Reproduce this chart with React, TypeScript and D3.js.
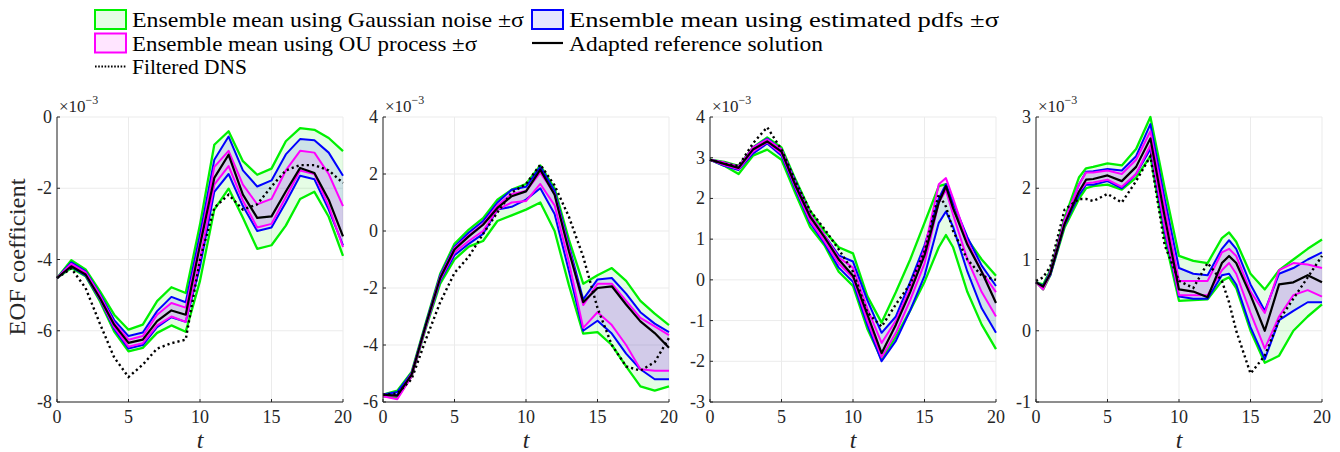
import React from "react";
import * as d3 from "d3";

// ---------- data (values ×1e-3) ----------
const T1 = [0, 1, 2, 3, 4, 5, 6, 7, 8, 9, 10, 11, 12, 13, 14, 15, 16, 17, 18, 19, 20];
const P1_gaussU = [-4.52, -4.02, -4.28, -4.89, -5.55, -5.97, -5.83, -5.17, -4.78, -4.94, -3.02, -0.78, -0.4, -1.24, -1.62, -1.45, -0.68, -0.31, -0.36, -0.59, -0.96];
const P1_gaussL = [-4.52, -4.24, -4.47, -5.17, -6.02, -6.58, -6.48, -6.06, -5.85, -6.03, -4.6, -2.6, -2.01, -2.83, -3.7, -3.6, -3.05, -2.3, -2.1, -2.8, -3.9];
const P1_pdfU = [-4.52, -4.08, -4.33, -4.97, -5.7, -6.15, -6.05, -5.45, -5.05, -5.2, -3.3, -1.2, -0.55, -1.5, -1.95, -1.78, -1.05, -0.62, -0.65, -1.0, -1.65];
const P1_pdfL = [-4.52, -4.2, -4.45, -5.12, -5.95, -6.5, -6.4, -5.9, -5.62, -5.75, -4.2, -2.1, -1.6, -2.5, -3.2, -3.1, -2.4, -1.65, -1.75, -2.6, -3.6];
const P1_ouU = [-4.52, -4.12, -4.36, -5.0, -5.78, -6.25, -6.15, -5.55, -5.22, -5.35, -3.5, -1.4, -0.95, -1.9, -2.45, -2.3, -1.5, -0.95, -1.0, -1.6, -2.5];
const P1_ouL = [-4.52, -4.18, -4.42, -5.1, -5.9, -6.45, -6.35, -5.85, -5.6, -5.75, -4.0, -1.9, -1.38, -2.35, -3.1, -3.0, -2.25, -1.5, -1.6, -2.5, -3.65];
const P1_ref = [-4.52, -4.19, -4.42, -5.08, -5.83, -6.34, -6.25, -5.73, -5.43, -5.55, -3.6, -1.71, -1.06, -2.18, -2.83, -2.79, -2.09, -1.43, -1.57, -2.32, -3.35];
const P1_dns = [-4.52, -4.25, -4.8, -5.8, -6.75, -7.3, -6.95, -6.5, -6.35, -6.25, -4.0, -2.55, -2.18, -2.6, -2.45, -1.95, -1.5, -1.35, -1.35, -1.5, -1.85];

const T2 = [0, 1, 2, 3, 4, 5, 6, 7, 8, 9, 10, 11, 12, 13, 14, 15, 16, 17, 18, 19, 20];
const P2_gaussU = [-5.74, -5.6, -4.95, -3.2, -1.5, -0.45, 0.05, 0.45, 1.1, 1.45, 1.65, 2.3, 1.5, -0.3, -1.85, -1.55, -1.3, -1.75, -2.45, -2.9, -3.3];
const P2_gaussL = [-5.8, -5.85, -5.1, -3.4, -1.85, -1.0, -0.55, -0.35, 0.35, 0.55, 0.75, 1.0, 0.0, -1.9, -3.6, -3.55, -4.0, -4.75, -5.45, -5.6, -5.45];
const P2_pdfU = [-5.74, -5.65, -4.98, -3.25, -1.55, -0.55, -0.05, 0.35, 1.0, 1.45, 1.55, 2.25, 1.4, -0.5, -2.4, -1.7, -1.65, -2.2, -2.85, -3.25, -3.55];
const P2_pdfL = [-5.74, -5.75, -5.05, -3.35, -1.75, -0.85, -0.45, -0.1, 0.75, 0.85, 1.1, 1.5, 0.6, -1.4, -3.5, -3.15, -3.6, -4.3, -4.85, -5.2, -5.2];
const P2_ouU = [-5.74, -5.8, -5.0, -3.3, -1.6, -0.6, -0.15, 0.25, 0.9, 1.3, 1.4, 2.05, 1.3, -0.6, -2.6, -1.85, -1.85, -2.45, -3.05, -3.35, -3.65];
const P2_ouL = [-5.8, -5.9, -5.1, -3.35, -1.7, -0.75, -0.35, 0.0, 0.75, 1.0, 1.05, 1.65, 0.9, -1.1, -3.4, -2.85, -3.3, -4.0, -4.85, -4.9, -4.9];
const P2_ref = [-5.74, -5.78, -5.04, -3.29, -1.65, -0.65, -0.19, 0.22, 0.81, 1.22, 1.39, 2.15, 1.27, -0.71, -2.5, -2.0, -1.94, -2.58, -3.17, -3.58, -4.1];
const P2_dns = [-5.75, -5.7, -5.2, -3.8, -2.5, -1.47, -0.9, -0.1, 0.65, 1.35, 1.65, 2.33, 1.6, 0.5, -0.9, -2.7, -4.0, -4.75, -4.9, -4.6, -3.75];

const T3 = [0, 1, 2, 3, 4, 5, 6, 7, 8, 9, 10, 11, 12, 13, 14, 15, 16, 16.5, 17, 18, 19, 20];
const P3_gaussU = [2.95, 2.9, 2.8, 3.25, 3.5, 3.25, 2.45, 1.7, 1.2, 0.8, 0.65, -0.4, -1.05, -0.3, 0.5, 1.4, 2.3, 2.35, 1.75, 1.0, 0.5, 0.1];
const P3_gaussL = [2.95, 2.8, 2.6, 3.05, 3.2, 2.95, 2.1, 1.3, 0.85, 0.2, -0.15, -1.2, -1.95, -1.4, -0.75, -0.05, 0.8, 1.1, 0.8, -0.3, -1.1, -1.7];
const P3_pdfU = [2.95, 2.88, 2.78, 3.25, 3.47, 3.2, 2.4, 1.6, 1.1, 0.6, 0.45, -0.5, -1.3, -0.9, -0.05, 0.85, 2.0, 2.35, 1.9, 1.05, 0.35, -0.15];
const P3_pdfL = [2.95, 2.8, 2.7, 3.1, 3.35, 3.05, 2.2, 1.4, 0.9, 0.3, -0.05, -1.1, -2.0, -1.5, -0.75, 0.1, 1.4, 1.68, 1.3, 0.2, -0.7, -1.3];
const P3_ouU = [2.95, 2.88, 2.78, 3.25, 3.45, 3.2, 2.35, 1.6, 1.1, 0.55, 0.3, -0.7, -1.55, -1.0, -0.2, 0.75, 2.35, 2.5, 2.0, 0.95, 0.2, -0.3];
const P3_ouL = [2.95, 2.82, 2.72, 3.15, 3.38, 3.1, 2.25, 1.45, 0.95, 0.4, 0.05, -1.0, -1.9, -1.3, -0.5, 0.4, 1.9, 2.2, 1.6, 0.5, -0.3, -0.9];
const P3_ref = [2.95, 2.85, 2.75, 3.2, 3.4, 3.15, 2.3, 1.55, 1.05, 0.5, 0.1, -0.85, -1.8, -1.1, -0.3, 0.6, 1.9, 2.3, 1.76, 0.86, 0.2, -0.57];
const P3_dns = [2.95, 2.85, 2.8, 3.35, 3.75, 3.2, 2.4, 1.7, 1.25, 0.75, 0.2, -0.8, -1.15, -0.6, -0.1, 0.7, 2.1, 1.8, 1.2, 0.5, 0.1, 0.0];

const T4 = [0, 0.5, 1, 2, 3, 3.5, 4, 5, 6, 7, 8, 9, 10, 11, 12, 13, 13.5, 14, 15, 16, 17, 18, 19, 20];
const P4_gaussU = [0.68, 0.65, 0.85, 1.58, 2.15, 2.28, 2.3, 2.35, 2.32, 2.55, 3.0, 2.0, 1.05, 0.98, 0.95, 1.3, 1.38, 1.25, 0.8, 0.58, 0.85, 1.0, 1.15, 1.28];
const P4_gaussL = [0.68, 0.58, 0.78, 1.45, 1.85, 2.0, 2.03, 2.05, 1.98, 2.15, 2.45, 1.3, 0.42, 0.43, 0.44, 0.7, 0.75, 0.6, 0.0, -0.45, -0.35, 0.0, 0.2, 0.37];
const P4_pdfU = [0.68, 0.63, 0.83, 1.55, 2.05, 2.23, 2.24, 2.27, 2.25, 2.45, 2.9, 1.85, 0.88, 0.8, 0.78, 1.15, 1.27, 1.15, 0.65, 0.28, 0.8, 0.88, 1.0, 1.1];
const P4_pdfL = [0.68, 0.62, 0.78, 1.48, 1.9, 2.05, 2.05, 2.1, 2.0, 2.2, 2.55, 1.4, 0.48, 0.45, 0.45, 0.78, 0.8, 0.65, 0.05, -0.4, 0.15, 0.28, 0.4, 0.4];
const P4_ouU = [0.68, 0.6, 0.82, 1.55, 2.05, 2.22, 2.22, 2.25, 2.2, 2.4, 2.8, 1.75, 0.7, 0.7, 0.7, 1.1, 1.15, 1.05, 0.55, 0.25, 0.85, 0.95, 0.93, 0.88];
const P4_ouL = [0.68, 0.58, 0.8, 1.5, 1.95, 2.07, 2.08, 2.12, 2.02, 2.2, 2.6, 1.45, 0.5, 0.5, 0.5, 0.85, 0.95, 0.8, 0.25, -0.25, 0.2, 0.5, 0.57, 0.48];
const P4_ref = [0.68, 0.62, 0.8, 1.5, 1.95, 2.12, 2.13, 2.18, 2.1, 2.3, 2.7, 1.6, 0.58, 0.55, 0.47, 0.95, 1.05, 0.95, 0.5, 0.0, 0.65, 0.68, 0.78, 0.68];
const P4_dns = [0.7, 0.75, 0.9, 1.7, 1.85, 1.85, 1.82, 1.92, 1.8, 2.1, 2.45, 1.2, 0.7, 0.6, 0.95, 0.7, 0.4, 0.0, -0.6, -0.35, 0.15, 0.45, 0.75, 1.05];

const X_TICKS = [0, 5, 10, 15, 20];
const P1_YTICKS = [-8, -6, -4, -2, 0];
const P2_YTICKS = [-6, -4, -2, 0, 2, 4];
const P3_YTICKS = [-3, -2, -1, 0, 1, 2, 3, 4];
const P4_YTICKS = [-1, 0, 1, 2, 3];

const LEGEND_LABELS = [
  "Ensemble mean using Gaussian noise ±σ",
  "Ensemble mean using estimated pdfs ±σ",
  "Ensemble mean using OU process ±σ",
  "Adapted reference solution",
  "Filtered DNS",
];

const panels = [
  { t: T1, gU: P1_gaussU, gL: P1_gaussL, bU: P1_pdfU, bL: P1_pdfL, mU: P1_ouU, mL: P1_ouL, ref: P1_ref, dns: P1_dns, ticks: P1_YTICKS },
  { t: T2, gU: P2_gaussU, gL: P2_gaussL, bU: P2_pdfU, bL: P2_pdfL, mU: P2_ouU, mL: P2_ouL, ref: P2_ref, dns: P2_dns, ticks: P2_YTICKS },
  { t: T3, gU: P3_gaussU, gL: P3_gaussL, bU: P3_pdfU, bL: P3_pdfL, mU: P3_ouU, mL: P3_ouL, ref: P3_ref, dns: P3_dns, ticks: P3_YTICKS },
  { t: T4, gU: P4_gaussU, gL: P4_gaussL, bU: P4_pdfU, bL: P4_pdfL, mU: P4_ouU, mL: P4_ouL, ref: P4_ref, dns: P4_dns, ticks: P4_YTICKS },
];

// ---------- layout ----------
const W = 1340;
const H = 452;
const PANEL_LEFT = [57, 383, 710, 1036];
const PW = 286;
const TOP = 117;
const BOTTOM = 402;
const FONT = "'Liberation Serif', 'DejaVu Serif', serif";
const GREEN = "#00f000";
const BLUE = "#0000ff";
const MAGENTA = "#ff00ff";

function Panel({ p, left }: { p: (typeof panels)[number]; left: number }) {
  const x = d3.scaleLinear().domain([0, 20]).range([left, left + PW]);
  const y = d3
    .scaleLinear()
    .domain([p.ticks[0], p.ticks[p.ticks.length - 1]])
    .range([BOTTOM, TOP]);
  const band = (U: number[], L: number[]) =>
    d3
      .area<number>()
      .x((_, i) => x(p.t[i]))
      .y0((_, i) => y(L[i]))
      .y1((d) => y(d))(U) || "";
  const line = (V: number[]) =>
    d3
      .line<number>()
      .x((_, i) => x(p.t[i]))
      .y((d) => y(d))(V) || "";
  return (
    <g>
      {/* grid */}
      {X_TICKS.map((v) => (
        <line key={"gx" + v} x1={x(v)} x2={x(v)} y1={TOP} y2={BOTTOM} stroke="#ebebeb" strokeWidth={1} />
      ))}
      {p.ticks.map((v) => (
        <line key={"gy" + v} x1={left} x2={left + PW} y1={y(v)} y2={y(v)} stroke="#ebebeb" strokeWidth={1} />
      ))}
      {/* bands */}
      <path d={band(p.gU, p.gL)} fill={GREEN} fillOpacity={0.1} stroke="none" />
      <path d={band(p.bU, p.bL)} fill={BLUE} fillOpacity={0.1} stroke="none" />
      <path d={band(p.mU, p.mL)} fill={MAGENTA} fillOpacity={0.1} stroke="none" />
      {/* lines */}
      {[p.gU, p.gL].map((s, i) => (
        <path key={"g" + i} d={line(s)} fill="none" stroke={GREEN} strokeWidth={2.3} strokeLinejoin="round" />
      ))}
      {[p.bU, p.bL].map((s, i) => (
        <path key={"b" + i} d={line(s)} fill="none" stroke={BLUE} strokeWidth={2} strokeLinejoin="round" />
      ))}
      {[p.mU, p.mL].map((s, i) => (
        <path key={"m" + i} d={line(s)} fill="none" stroke={MAGENTA} strokeWidth={2} strokeLinejoin="round" />
      ))}
      <path d={line(p.ref)} fill="none" stroke="#000" strokeWidth={2.2} strokeLinejoin="round" />
      <path d={line(p.dns)} fill="none" stroke="#000" strokeWidth={2.4} strokeDasharray="2.2,3" />
      {/* axes */}
      <line x1={left} x2={left} y1={TOP} y2={BOTTOM} stroke="#262626" strokeWidth={1} />
      <line x1={left} x2={left + PW} y1={BOTTOM} y2={BOTTOM} stroke="#262626" strokeWidth={1} />
      {X_TICKS.map((v) => (
        <g key={"tx" + v}>
          <line x1={x(v)} x2={x(v)} y1={BOTTOM} y2={BOTTOM - 3} stroke="#262626" />
          <text x={x(v)} y={BOTTOM + 21} textAnchor="middle" fontSize={18} fill="#262626" fontFamily={FONT}>
            {v}
          </text>
        </g>
      ))}
      {p.ticks.map((v) => (
        <g key={"ty" + v}>
          <line x1={left} x2={left + 3} y1={y(v)} y2={y(v)} stroke="#262626" />
          <text x={left - 5} y={y(v) + 6} textAnchor="end" fontSize={18} fill="#262626" fontFamily={FONT}>
            {v}
          </text>
        </g>
      ))}
      <text x={left + 2} y={TOP - 5} fontSize={17} fill="#262626" fontFamily={FONT}>
        ×10
        <tspan dy={-8} fontSize={12}>
          −3
        </tspan>
      </text>
      <text x={left + PW / 2} y={BOTTOM + 46} textAnchor="middle" fontSize={24} fontStyle="italic" fill="#262626" fontFamily={FONT}>
        t
      </text>
    </g>
  );
}

function Legend() {
  const rows = [
    { kind: "box", color: GREEN, x: 95, y: 19.5, len: 392, label: LEGEND_LABELS[0] },
    { kind: "box", color: BLUE, x: 532, y: 19.5, len: 430, label: LEGEND_LABELS[1] },
    { kind: "box", color: MAGENTA, x: 95, y: 43, len: 345, label: LEGEND_LABELS[2] },
    { kind: "line", color: "#000", x: 532, y: 43, len: 254, label: LEGEND_LABELS[3] },
    { kind: "dot", color: "#000", x: 95, y: 66.5, len: 115, label: LEGEND_LABELS[4] },
  ];
  return (
    <g>
      {rows.map((r, i) => (
        <g key={i}>
          {r.kind === "box" && (
            <>
              <rect x={r.x} y={r.y - 9.5} width={31} height={19} fill="#fff" />
              <rect x={r.x} y={r.y - 9.5} width={31} height={19} fill={r.color} fillOpacity={0.1} stroke={r.color} strokeWidth={2} />
            </>
          )}
          {r.kind === "line" && <line x1={r.x} x2={r.x + 31} y1={r.y} y2={r.y} stroke="#000" strokeWidth={2.2} />}
          {r.kind === "dot" && (
            <line x1={r.x} x2={r.x + 31} y1={r.y} y2={r.y} stroke="#000" strokeWidth={2} strokeDasharray="1.6,1.6" />
          )}
          <text
            x={r.x + 37}
            y={r.y + 7.5}
            fontSize={22}
            fill="#000"
            fontFamily={FONT}
            textLength={r.len}
            lengthAdjust="spacingAndGlyphs"
          >
            {r.label}
          </text>
        </g>
      ))}
    </g>
  );
}

export default function App() {
  return (
    <svg width={W} height={H} style={{ position: "absolute", left: 0, top: 0, background: "#fff" }}>
      <rect x={0} y={0} width={W} height={H} fill="#fff" />
      <Legend />
      {panels.map((p, i) => (
        <Panel key={i} p={p} left={PANEL_LEFT[i]} />
      ))}
      <text
        transform={`translate(25, 257) rotate(-90)`}
        textAnchor="middle"
        fontSize={23}
        fill="#262626"
        fontFamily={FONT}
        textLength={157}
        lengthAdjust="spacingAndGlyphs"
      >
        EOF coefficient
      </text>
    </svg>
  );
}
